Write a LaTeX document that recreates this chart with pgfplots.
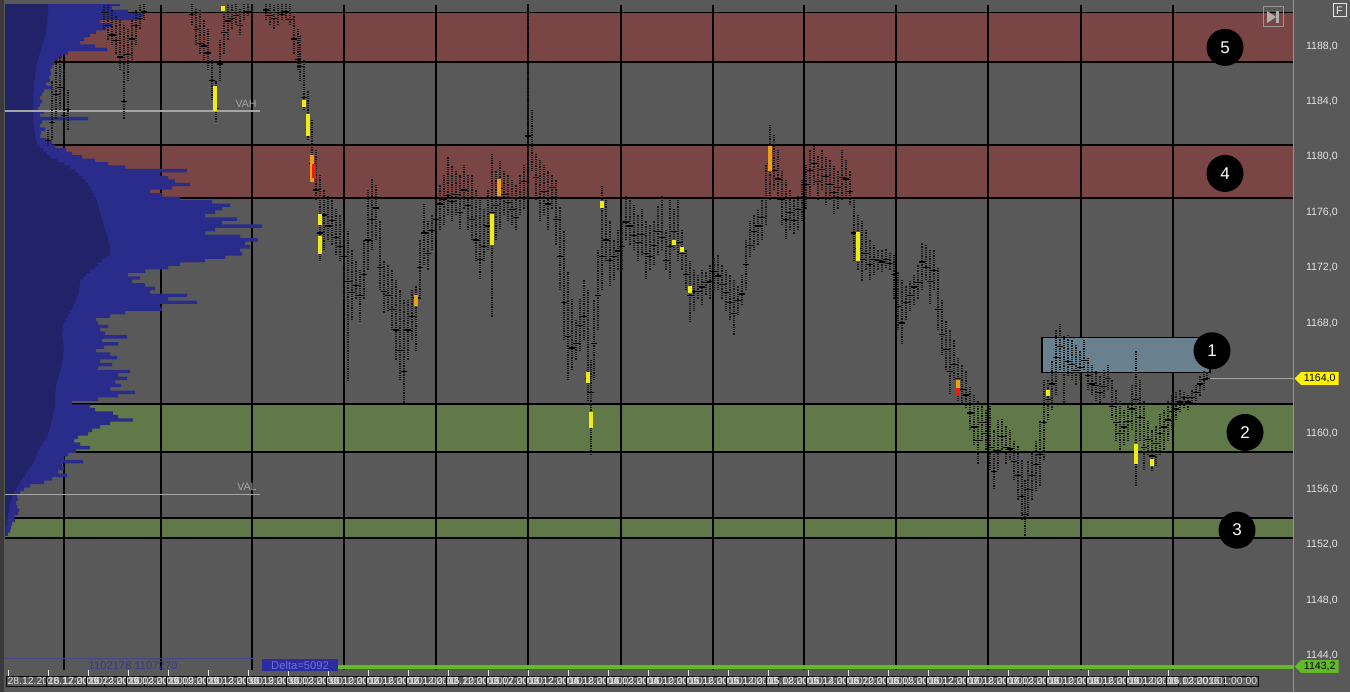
\documentclass[border=0pt]{standalone}
\usepackage{pgfplots}
\pgfplotsset{compat=1.18}
\usepackage{pgfplotstable}
\usepackage{fontspec}
\setmainfont{Liberation Sans}
\usetikzlibrary{shapes.symbols}

\definecolor{bg}{RGB}{89,89,89}
\definecolor{edge}{RGB}{58,58,58}
\definecolor{redband}{RGB}{121,69,69}
\definecolor{greenband}{RGB}{97,121,73}
\definecolor{boxone}{RGB}{105,129,143}
\definecolor{profout}{RGB}{42,44,140}
\definecolor{profin}{RGB}{33,35,104}
\definecolor{barcol}{RGB}{24,24,24}
\definecolor{lbl}{RGB}{228,228,228}
\definecolor{vaclr}{RGB}{165,165,165}
\definecolor{dgreen}{RGB}{98,186,38}
\definecolor{hlyel}{RGB}{240,235,20}
\definecolor{hlorg}{RGB}{235,160,20}
\definecolor{hlred}{RGB}{230,30,20}
\definecolor{stripline}{RGB}{70,70,135}
\definecolor{bluetxt}{RGB}{55,55,150}
\definecolor{deltafill}{RGB}{44,44,160}
\definecolor{deltatxt}{RGB}{110,110,220}
\definecolor{axgray}{RGB}{150,150,150}
\definecolor{icongray}{RGB}{175,175,175}

% volume profile: price, outer (total) and inner (dark) length
\pgfplotstableread{
p outer inner
1191.00 120 48
1190.75 112 48
1190.50 128 48
1190.25 143 48
1190.00 140 47
1189.75 100 47
1189.50 112 47
1189.25 106 46
1189.00 96 46
1188.75 90 45
1188.50 84 44
1188.25 80 43
1188.00 95 42
1187.75 107 41
1187.50 68 40
1187.25 62 39
1187.00 58 38
1186.75 54 37
1186.50 52 36
1186.25 50 36
1186.00 51 35
1185.75 49 35
1185.50 50 34
1185.25 46 34
1185.00 52 34
1184.75 44 34
1184.50 42 33
1184.25 40 33
1184.00 42 33
1183.75 40 33
1183.50 38 33
1183.25 44 33
1183.00 40 33
1182.75 88 33
1182.50 42 33
1182.25 40 34
1182.00 45 34
1181.75 41 35
1181.50 40 35
1181.25 46 36
1181.00 52 37
1180.75 55 40
1180.50 66 43
1180.25 72 46
1180.00 82 50
1179.75 95 57
1179.50 108 64
1179.25 125 70
1179.00 187 75
1178.75 160 78
1178.50 168 82
1178.25 175 85
1178.00 190 88
1177.75 172 90
1177.50 150 92
1177.25 162 94
1177.00 180 96
1176.75 212 97
1176.50 230 98
1176.25 222 99
1176.00 215 100
1175.75 205 101
1175.50 237 102
1175.25 222 103
1175.00 262 104
1174.75 215 105
1174.50 205 106
1174.25 240 107
1174.00 258 108
1173.75 245 109
1173.50 250 110
1173.25 240 110
1173.00 242 110
1172.75 225 106
1172.50 205 102
1172.25 180 98
1172.00 168 95
1171.75 145 90
1171.50 128 86
1171.25 140 83
1171.00 132 80
1170.75 145 80
1170.50 155 79
1170.25 150 79
1170.00 187 78
1169.75 168 76
1169.50 197 75
1169.25 160 73
1169.00 162 72
1168.75 125 70
1168.50 110 68
1168.25 96 66
1168.00 98 64
1167.75 108 63
1167.50 100 63
1167.25 105 62
1167.00 127 62
1166.75 102 63
1166.50 118 63
1166.25 104 64
1166.00 96 64
1165.75 110 63
1165.50 117 63
1165.25 100 62
1165.00 112 62
1164.75 98 61
1164.50 130 60
1164.25 118 59
1164.00 127 58
1163.75 115 57
1163.50 121 56
1163.25 110 56
1163.00 135 55
1162.75 118 55
1162.50 98 55
1162.25 72 55
1162.00 90 55
1161.75 95 54
1161.50 113 53
1161.25 118 53
1161.00 133 52
1160.75 110 51
1160.50 100 50
1160.25 92 49
1160.00 88 48
1159.75 78 46
1159.50 74 44
1159.25 80 42
1159.00 90 40
1158.75 76 38
1158.50 68 37
1158.25 64 35
1158.00 83 34
1157.75 62 32
1157.50 64 29
1157.25 58 27
1157.00 67 25
1156.75 52 22
1156.50 44 20
1156.25 30 18
1156.00 24 16
1155.75 20 14
1155.50 17 12
1155.25 18 11
1155.00 16 10
1154.75 17 9
1154.50 19 9
1154.25 18 8
1154.00 14 8
1153.75 15 7
1153.50 12 7
1153.25 11 6
1153.00 10 6
1152.75 8 6
}\profile

% price bars: x position, high, low, close
\pgfplotstableread{
x hi lo cl
48 1181.9 1180.8 1181.2
52 1185.5 1181.2 1182.5
56 1187.0 1182.7 1184.5
60 1187.2 1183.4 1185.0
64 1186.3 1181.2 1183.0
68 1184.8 1181.9 1183.4
104 1191.3 1189.2 1190.4
108 1191.0 1188.4 1189.5
112 1190.6 1188.1 1188.8
116 1190.2 1187.4 1188.4
120 1189.9 1186.3 1187.2
124 1189.5 1182.7 1184.0
128 1189.2 1185.5 1187.4
132 1189.9 1187.0 1188.5
136 1190.6 1188.1 1189.5
140 1191.0 1189.2 1190.0
144 1191.2 1189.9 1190.5
192 1191.0 1189.5 1190.3
196 1190.7 1188.1 1189.2
200 1190.6 1187.4 1188.2
204 1189.9 1187.0 1188.0
208 1189.2 1186.3 1187.5
212 1187.0 1184.1 1185.5
216 1185.5 1182.5 1183.5
220 1188.4 1185.5 1186.7
224 1190.6 1187.4 1189.0
228 1191.0 1188.4 1189.8
232 1191.0 1189.2 1190.0
236 1191.0 1189.5 1190.2
240 1190.7 1188.8 1189.5
244 1191.0 1189.9 1190.4
248 1191.0 1190.2 1190.5
252 1191.0 1189.9 1190.4
266 1191.0 1189.9 1190.6
270 1191.0 1189.5 1190.2
274 1191.0 1189.2 1190.0
278 1191.0 1189.5 1190.4
282 1191.0 1189.9 1190.3
286 1191.0 1189.9 1190.5
290 1191.0 1189.5 1189.9
294 1190.2 1187.4 1188.5
298 1189.2 1186.3 1187.0
300 1188.7 1185.5 1186.5
304 1187.0 1183.4 1184.3
308 1184.8 1181.2 1182.0
312 1182.7 1178.7 1179.5
316 1180.5 1176.9 1177.6
320 1178.7 1172.5 1174.5
324 1177.6 1173.3 1175.8
328 1177.2 1174.0 1175.0
332 1176.9 1173.6 1175.4
336 1176.2 1172.9 1174.2
340 1175.8 1172.5 1173.5
344 1175.4 1169.7 1172.8
348 1174.7 1163.8 1171.0
352 1173.3 1168.2 1170.2
356 1172.5 1169.7 1170.7
360 1171.8 1168.1 1170.0
364 1174.0 1169.7 1171.5
368 1177.6 1171.8 1174.0
372 1178.4 1173.3 1175.5
376 1178.0 1174.0 1176.3
380 1175.4 1170.4 1172.0
384 1172.5 1168.7 1170.3
388 1172.2 1168.9 1170.0
392 1171.8 1167.5 1169.0
396 1171.1 1165.3 1167.5
400 1170.4 1163.9 1166.0
404 1169.7 1162.2 1164.5
408 1169.7 1165.3 1167.5
412 1170.4 1166.8 1168.5
416 1170.7 1166.0 1169.8
420 1174.0 1169.7 1172.0
424 1176.6 1172.2 1174.5
428 1175.4 1171.8 1173.0
432 1175.8 1173.3 1174.7
436 1176.9 1174.0 1175.5
440 1178.0 1174.7 1176.6
444 1178.7 1175.1 1176.9
448 1180.0 1175.8 1177.2
452 1179.4 1175.4 1176.8
456 1179.0 1175.8 1177.3
460 1178.7 1174.8 1176.0
464 1179.4 1176.2 1177.6
468 1178.7 1174.7 1176.5
472 1178.7 1174.0 1175.5
476 1177.6 1172.5 1174.0
480 1176.9 1171.2 1172.6
484 1176.2 1172.5 1173.5
488 1177.6 1173.3 1175.0
492 1180.2 1168.4 1176.0
496 1179.0 1174.0 1176.5
500 1179.7 1174.8 1177.7
504 1179.0 1175.8 1177.3
508 1178.7 1175.4 1176.7
512 1178.3 1175.1 1176.2
516 1178.0 1174.7 1175.6
520 1178.7 1175.8 1177.0
524 1179.4 1176.2 1178.2
528 1191.0 1176.9 1181.5
532 1183.4 1179.0 1180.8
536 1180.2 1176.9 1178.5
540 1179.8 1175.4 1177.0
544 1179.4 1175.8 1177.5
548 1179.0 1174.7 1176.6
552 1178.7 1176.2 1177.8
556 1178.3 1173.6 1175.5
560 1176.4 1170.4 1172.8
564 1174.7 1166.8 1169.5
568 1171.7 1163.9 1167.0
572 1169.7 1164.6 1166.2
576 1168.2 1165.3 1166.5
580 1169.7 1166.0 1167.8
584 1171.1 1166.8 1168.5
588 1170.4 1162.4 1164.0
591 1165.3 1158.5 1163.0
594 1169.7 1163.9 1166.5
598 1173.3 1167.5 1170.0
602 1177.9 1170.4 1172.8
606 1176.9 1172.5 1174.0
610 1175.4 1170.7 1172.5
614 1174.0 1171.1 1172.8
618 1174.7 1171.8 1173.2
622 1175.4 1171.8 1173.5
626 1177.2 1174.0 1175.3
630 1176.9 1173.6 1175.0
634 1176.5 1173.3 1174.3
638 1175.8 1172.5 1173.8
642 1176.2 1172.9 1174.4
646 1175.4 1171.2 1173.0
650 1175.1 1171.8 1172.8
654 1175.4 1172.2 1173.6
658 1176.5 1172.9 1174.6
662 1177.2 1173.3 1174.2
666 1174.7 1171.8 1172.5
670 1176.9 1171.2 1173.5
674 1176.2 1173.3 1174.6
678 1176.9 1172.5 1173.8
682 1174.7 1171.8 1173.0
686 1173.3 1170.4 1171.5
690 1172.5 1168.1 1170.0
694 1171.8 1168.9 1170.3
698 1171.5 1169.7 1170.3
702 1171.8 1169.3 1170.6
706 1171.7 1170.0 1170.9
710 1172.2 1169.7 1171.0
714 1172.7 1170.4 1171.7
718 1172.9 1170.4 1171.4
722 1172.2 1169.7 1170.8
726 1171.8 1168.9 1170.2
730 1171.5 1168.2 1169.5
734 1171.1 1167.1 1168.7
738 1170.7 1168.6 1169.6
742 1171.5 1169.3 1170.1
746 1174.0 1170.4 1172.2
750 1175.4 1172.8 1173.6
754 1175.8 1173.3 1174.6
758 1176.2 1173.6 1175.0
762 1176.9 1174.0 1175.6
766 1179.4 1175.1 1177.0
770 1182.3 1176.9 1179.5
774 1181.6 1177.6 1179.0
778 1180.5 1176.9 1178.4
782 1179.0 1175.1 1176.9
786 1178.3 1174.1 1175.5
790 1177.6 1174.7 1176.0
794 1176.9 1174.4 1175.4
798 1177.2 1174.7 1176.2
802 1178.3 1175.4 1177.0
806 1179.4 1176.2 1178.0
810 1180.5 1177.2 1179.0
814 1180.8 1178.0 1179.5
818 1180.1 1176.9 1178.2
822 1180.5 1177.6 1179.1
826 1180.0 1176.5 1178.6
830 1179.8 1176.9 1178.0
834 1179.4 1175.9 1177.4
838 1179.0 1176.2 1177.8
842 1180.5 1176.9 1178.5
846 1179.8 1177.2 1178.4
850 1179.0 1176.5 1177.5
854 1176.9 1172.5 1174.5
858 1175.8 1171.8 1173.4
862 1175.4 1171.0 1172.6
866 1174.7 1171.8 1173.0
870 1174.0 1171.1 1172.2
874 1173.6 1171.5 1172.6
878 1173.3 1171.8 1172.5
882 1173.3 1171.7 1172.4
886 1173.4 1172.0 1172.6
890 1173.1 1171.8 1172.3
894 1172.9 1169.7 1171.5
898 1171.7 1167.5 1169.2
902 1171.1 1166.5 1168.0
906 1170.7 1168.2 1169.5
910 1171.1 1168.9 1170.0
914 1171.5 1169.3 1170.6
918 1172.2 1169.7 1170.9
922 1173.8 1170.4 1172.4
926 1173.6 1171.1 1172.0
930 1173.3 1169.4 1171.0
934 1173.3 1170.4 1171.8
938 1172.0 1167.5 1169.0
942 1169.7 1165.7 1167.2
946 1168.2 1164.6 1166.1
950 1167.5 1162.9 1164.5
954 1166.8 1163.9 1165.0
958 1165.5 1162.4 1164.0
962 1165.0 1162.1 1163.2
966 1164.6 1161.9 1162.8
970 1163.4 1160.3 1161.5
974 1162.8 1159.2 1160.5
978 1162.4 1157.8 1159.5
982 1162.1 1159.5 1160.8
986 1161.7 1158.8 1160.0
990 1162.2 1157.4 1159.0
994 1160.3 1156.0 1157.3
998 1161.0 1157.4 1158.8
1002 1161.1 1158.8 1159.8
1006 1160.6 1157.8 1159.0
1010 1160.3 1158.1 1158.9
1014 1159.5 1156.7 1158.0
1018 1159.1 1155.2 1157.0
1022 1158.1 1153.8 1155.5
1025 1156.7 1152.6 1154.2
1028 1158.1 1154.1 1156.0
1032 1158.8 1155.2 1157.0
1036 1159.5 1155.9 1157.8
1040 1161.0 1156.2 1158.5
1044 1163.9 1158.1 1160.8
1048 1163.9 1161.0 1162.5
1052 1165.3 1161.7 1163.6
1056 1167.5 1162.8 1165.5
1060 1167.9 1164.6 1166.3
1064 1167.1 1162.2 1164.4
1068 1167.1 1164.2 1165.2
1072 1166.8 1163.9 1165.0
1076 1166.4 1163.5 1164.6
1080 1166.0 1163.9 1164.8
1084 1166.8 1164.6 1165.3
1088 1165.5 1163.2 1164.2
1092 1165.0 1162.8 1163.6
1096 1164.6 1162.4 1163.5
1100 1164.2 1162.2 1163.0
1104 1164.6 1162.6 1163.4
1108 1165.0 1163.2 1164.0
1112 1163.9 1161.0 1162.0
1116 1163.2 1159.5 1160.8
1120 1162.4 1158.8 1160.0
1124 1161.7 1159.2 1160.5
1128 1162.1 1159.5 1160.9
1132 1163.5 1160.3 1161.8
1136 1166.0 1156.2 1162.5
1140 1163.9 1159.5 1161.2
1144 1162.4 1157.4 1159.0
1148 1160.9 1158.5 1159.6
1152 1160.3 1157.3 1158.4
1156 1160.6 1157.7 1159.3
1160 1161.4 1158.5 1160.0
1164 1161.7 1158.8 1160.5
1168 1162.4 1159.5 1161.0
1172 1162.8 1160.3 1161.6
1176 1163.0 1161.0 1161.8
1180 1163.2 1161.6 1162.3
1184 1163.0 1161.9 1162.6
1188 1162.8 1161.7 1162.3
1192 1163.2 1162.1 1162.6
1196 1163.5 1162.4 1163.0
1200 1164.2 1162.7 1163.6
1204 1164.6 1163.2 1163.9
1207 1164.5 1163.9 1164.0
}\bars

% volume clusters highlighted on the bars
\pgfplotstableread{
x hi lo
223 1190.9 1190.5
215 1185.1 1183.3
304 1184.1 1183.6
308 1183.1 1181.5
320 1175.9 1175.1
320 1174.3 1173.0
492 1175.9 1173.6
588 1164.5 1163.7
591 1161.6 1160.4
602 1176.8 1176.3
674 1174.0 1173.6
682 1173.5 1173.1
690 1170.7 1170.2
858 1174.6 1172.5
1048 1163.2 1162.7
1136 1159.3 1157.8
1152 1158.2 1157.7
}\yel
\pgfplotstableread{
x hi lo
312 1180.1 1178.2
499 1178.4 1177.2
416 1170.0 1169.2
770 1180.8 1179.0
958 1163.9 1163.2
}\org
\pgfplotstableread{
x hi lo
314 1179.5 1178.5
958 1163.3 1162.7
}\rdm

\begin{document}
\begin{tikzpicture}
\fill[bg] (0,0) rectangle (675pt,346pt);
\fill[edge] (0,0) rectangle (2pt,346pt);
\begin{axis}[
  at={(2.5pt,11pt)}, anchor=south west,
  width=644pt, height=332.5pt, scale only axis,
  xmin=5, xmax=1293, ymin=1142.95, ymax=1190.96,
  clip mode=individual,
  axis line style={draw=none},
  tick align=outside, major tick length=3pt,
  ytick={1144,1148,...,1188},
  ytick pos=right, yticklabel pos=right,
  y tick style={draw=none},
  y tick label style={font=\fontsize{5.3}{6}\selectfont, text=lbl,
    /pgf/number format/.cd, fixed, fixed zerofill, precision=1,
    use comma, 1000 sep={}, assume math mode=true},
  xtick={8,48,...,1168},
  xtick pos=bottom,
  x tick style={draw=lbl, line width=0.5pt},
  xticklabels={28.12.2016 17:00:00, 28.12.2016 23:00:00, 29.12.2016 03:00:00,
    29.12.2016 09:00:00, 29.12.2016 13:00:00, 29.12.2016 19:00:00,
    30.12.2016 03:00:00, 30.12.2016 10:00:00, 30.12.2016 16:00:00,
    02.12.2016 1:00:00, 02.12.2016 20:00:00, 03.12.2016 07:00:00,
    03.12.2016 12:00:00, 03.12.2016 18:00:00, 04.12.2016 03:00:00,
    04.12.2016 10:00:00, 04.12.2016 16:00:00, 05.12.2016 1:00:00,
    05.12.2016 08:00:00, 05.12.2016 14:00:00, 05.12.2016 20:00:00,
    06.12.2016 05:00:00, 06.12.2016 12:00:00, 06.12.2016 18:00:00,
    07.12.2016 03:00:00, 07.12.2016 10:00:00, 08.12.2016 16:00:00,
    08.12.2016 1:00:00, 09.12.2016 03:00:00, 09.12.2016 1:00:00},
  xticklabel style={font=\fontsize{5.2}{6}\selectfont, text=lbl,
    draw=black, line width=0.4pt, inner sep=0.6pt, anchor=north west, xshift=-1pt},
]
% zones
\fill[redband] (axis cs:5,1186.85) rectangle (axis cs:1293,1190.4);
\fill[redband] (axis cs:5,1177.03) rectangle (axis cs:1293,1180.85);
\fill[greenband] (axis cs:5,1158.69) rectangle (axis cs:1293,1162.15);
\fill[greenband] (axis cs:5,1152.48) rectangle (axis cs:1293,1153.92);
% vertical grid
\pgfplotsinvokeforeach{64,161,252,344,436,528,621,713,804,896,988,1081,1173}{
  \draw[black, line width=0.6pt] (axis cs:#1,1142.95) -- (axis cs:#1,1190.96);}
\pgfplotsinvokeforeach{1190.4,1186.85,1180.85,1177.03,1162.15,1158.69,1153.92,1152.48}{
  \draw[black, line width=0.6pt] (axis cs:5,#1) -- (axis cs:1293,#1);}

% volume profile
\addplot[xbar, bar shift=0pt, bar width=0.25, fill=profout, draw=none] table[x=outer, y=p] {\profile};
\addplot[xbar, bar shift=0pt, bar width=0.25, fill=profin, draw=none] table[x=inner, y=p] {\profile};

% value area lines
\draw[vaclr, line width=0.6pt] (axis cs:5,1183.3) -- (axis cs:260,1183.3);
\node[vaclr, font=\fontsize{5.3}{6}\selectfont, anchor=south east, inner sep=1pt] at (axis cs:259,1183.4) {VAH};
\draw[vaclr, line width=0.6pt] (axis cs:5,1155.6) -- (axis cs:260,1155.6);
\node[vaclr, font=\fontsize{5.3}{6}\selectfont, anchor=south east, inner sep=1pt] at (axis cs:259,1155.7) {VAL};

% zone 1
\filldraw[fill=boxone, draw=black, line width=0.6pt] (axis cs:1042,1164.45) rectangle (axis cs:1210,1166.95);

% bars
\addplot[-, barcol, line width=0.7pt, dash pattern=on 0.5pt off 0.4pt,
  quiver={u=0, v=\thisrow{hi}-\thisrow{lo}}] table[x=x, y=lo] {\bars};
\addplot[only marks, mark=-, mark size=1.5pt, black, line width=0.6pt] table[x=x, y=cl] {\bars};
\addplot[-, hlyel, line width=1.6pt, quiver={u=0, v=\thisrow{hi}-\thisrow{lo}}] table[x=x, y=lo] {\yel};
\addplot[-, hlorg, line width=1.6pt, quiver={u=0, v=\thisrow{hi}-\thisrow{lo}}] table[x=x, y=lo] {\org};
\addplot[-, hlred, line width=1.6pt, quiver={u=0, v=\thisrow{hi}-\thisrow{lo}}] table[x=x, y=lo] {\rdm};

% last price and delta line
\draw[vaclr, line width=0.5pt] (axis cs:1210,1164) -- (axis cs:1293,1164);
\draw[dgreen, line width=2pt] (axis cs:338,1143.2) -- (axis cs:1293,1143.2);
\draw[stripline, line width=0.5pt] (axis cs:5,1143.75) -- (axis cs:253,1143.75);
\node[text=bluetxt, font=\fontsize{5.6}{6}\selectfont] at (axis cs:133,1143.25) {1102178 1107270};
\node[fill=deltafill, text=deltatxt,
  font=\fontsize{5.6}{6}\selectfont, minimum width=38pt, minimum height=6pt, inner sep=0pt] at (axis cs:300,1143.3) {Delta=5092};

% price tags
\node[signal, signal to=west, signal pointer angle=90, fill=yellow, text=black, anchor=west,
  font=\fontsize{5.3}{6}\selectfont, inner xsep=1.5pt, inner ysep=1pt] at (axis cs:1294,1164) {1164,0};
\node[signal, signal to=west, signal pointer angle=90, fill=dgreen, text=black, anchor=west,
  font=\fontsize{5.3}{6}\selectfont, inner xsep=1.5pt, inner ysep=1pt] at (axis cs:1294,1143.2) {1143,2};

% zone numbers
\tikzset{num/.style={circle, fill=black, minimum size=18.5pt, inner sep=0pt, text=white,
  font=\fontsize{8.5}{9}\selectfont}}
\node[num] at (axis cs:1212,1166.0) {1};
\node[num] at (axis cs:1245,1160.1) {2};
\node[num] at (axis cs:1237,1153.05) {3};
\node[num] at (axis cs:1225,1178.8) {4};
\node[num] at (axis cs:1225,1187.9) {5};
\end{axis}

\begin{scope}[shift={(0pt,346pt)}, x=0.5pt, y=-0.5pt]
\draw[axgray, line width=0.5pt] (1293,0) -- (1293,692);
\draw[lbl, line width=0.5pt] (1333,4) rectangle (1346,17);
\node[lbl, font=\fontsize{5.5}{6}\selectfont, inner sep=0pt] at (1339.5,10.5) {F};
\draw[axgray, line width=0.5pt] (1263,7) rectangle (1283,27);
\fill[icongray] (1267,11) -- (1276,17) -- (1267,23) -- cycle;
\fill[icongray] (1276,11) rectangle (1279,23);
\end{scope}
\pgfresetboundingbox
\path[use as bounding box] (0,0) rectangle (675pt,346pt);
\end{tikzpicture}
\end{document}
